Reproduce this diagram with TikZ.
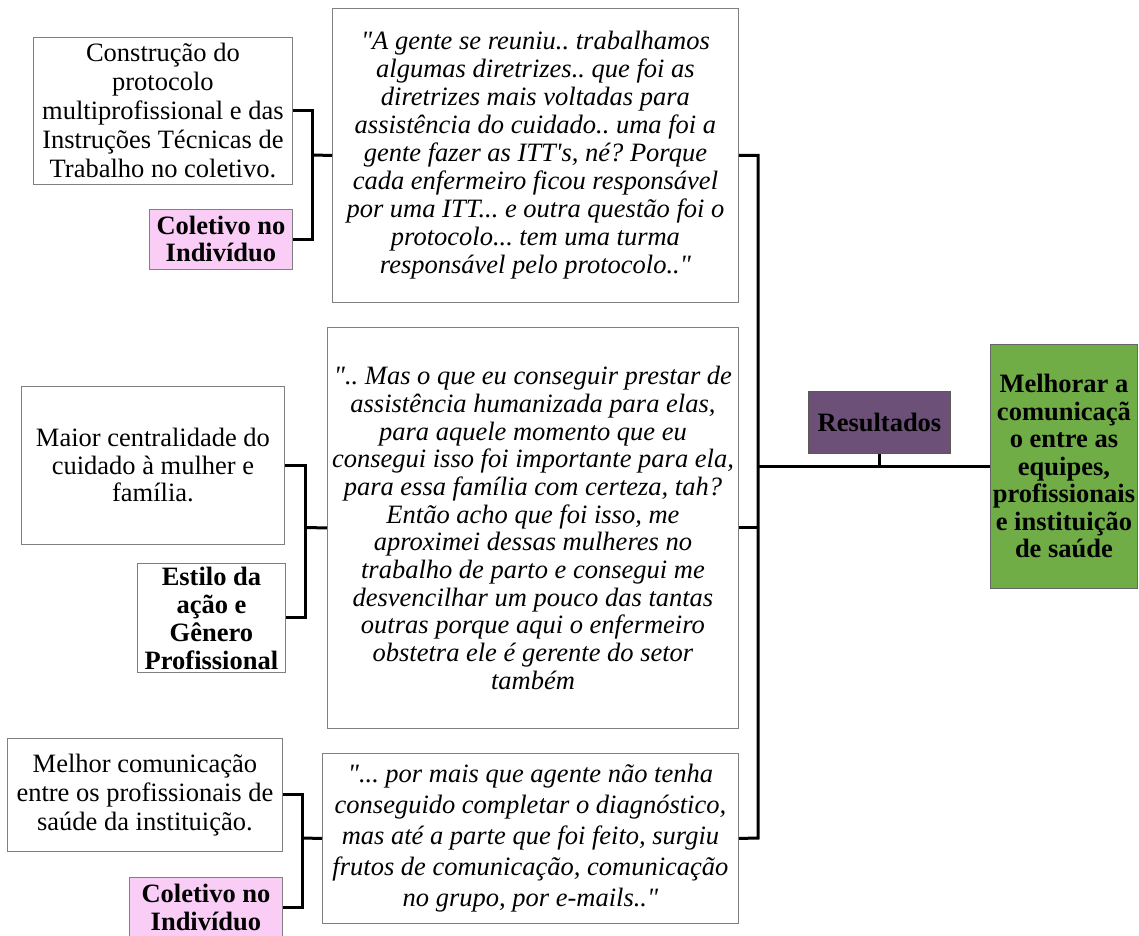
\documentclass[tikz,border=0pt]{standalone}
\usepackage{fontspec}
\setmainfont{Liberation Serif}
\definecolor{bordergray}{RGB}{128,128,128}
\definecolor{pinkfill}{RGB}{249,205,245}
\definecolor{purplefill}{RGB}{108,80,120}
\definecolor{greenfill}{RGB}{112,173,71}
\newcommand{\dq}{\textquotedbl{}}
\frenchspacing
\begin{document}
\begin{tikzpicture}[x=1pt,y=-1pt,
  panel/.style={draw=bordergray, line width=0.9pt, fill=white, inner sep=0pt,
                align=center, anchor=north west},
  plaintext/.style={font=\fontsize{26.5}{#1}\selectfont},
  quotetext/.style={font=\fontsize{26.5}{#1}\selectfont\itshape},
  tagtext/.style={font=\fontsize{26.5}{#1}\selectfont\bfseries},
  conn/.style={line width=3pt, black}]

\fill[white] (0,0) rectangle (1139,935);
\useasboundingbox (0,0) rectangle (1139,935);

% ---- top group ----
\node[panel, plaintext=29, minimum width=259pt, minimum height=147pt] (c1) at (33,37)
  {Construção do\\protocolo\\multiprofissional e das\\Instruções Técnicas de\\Trabalho no coletivo.};
\node[panel, tagtext=27, fill=pinkfill,
      minimum width=143pt, minimum height=60pt] (co1) at (149,209)
  {Coletivo no\\Indivíduo};
\node[panel, quotetext=28, minimum width=406pt, minimum height=294pt] (q1) at (332,8)
  {\dq A gente se reuniu.. trabalhamos\\algumas diretrizes.. que foi as\\diretrizes mais voltadas para\\assistência do cuidado.. uma foi a\\gente fazer as ITT\textquotesingle s, né? Porque\\cada enfermeiro ficou responsável\\por uma ITT... e outra questão foi o\\protocolo... tem uma turma\\responsável pelo protocolo..\dq};

% ---- middle group ----
\node[panel, plaintext=27.5, minimum width=263pt, minimum height=158pt] (m2) at (21,386)
  {Maior centralidade do\\cuidado à mulher e\\família.};
\node[panel, tagtext=28, minimum width=148pt, minimum height=109pt] (e2) at (137,563)
  {Estilo da\\ação e\\Gênero\\Profissional};
\node[panel, quotetext=27.7, minimum width=411pt, minimum height=401pt] (q2) at (327,327)
  {\dq.. Mas o que eu conseguir prestar de\\assistência humanizada para elas,\\para aquele momento que eu\\consegui isso foi importante para ela,\\para essa família com certeza, tah?\\Então acho que foi isso, me\\aproximei dessas mulheres no\\trabalho de parto e consegui me\\desvencilhar um pouco das tantas\\outras porque aqui o enfermeiro\\obstetra ele é gerente do setor\\também};

% ---- bottom group ----
\node[panel, plaintext=29, minimum width=275pt, minimum height=113pt] (m3) at (7,738)
  {Melhor comunicação\\entre os profissionais de\\saúde da instituição.};
\node[panel, tagtext=28, fill=pinkfill,
      minimum width=153pt, minimum height=60pt] (co3) at (129,877)
  {Coletivo no\\Indivíduo};
\node[panel, quotetext=31, minimum width=416pt, minimum height=170pt] (q3) at (322,753)
  {\dq... por mais que agente não tenha\\conseguido completar o diagnóstico,\\mas até a parte que foi feito, surgiu\\frutos de comunicação, comunicação\\no grupo, por e-mails..\dq};

% ---- results ----
\node[panel, tagtext=27, draw=black!65, fill=purplefill,
      minimum width=142pt, minimum height=62pt] (r) at (808,391)
  {Resultados};
\node[panel, tagtext=27.5, draw=black!60, fill=greenfill,
      minimum width=147pt, minimum height=244pt] (g) at (990,344)
  {Melhorar a\\comunicaçã\\o entre as\\equipes,\\profissionais\\e instituição\\de saúde};

% ---- connectors ----
\coordinate (j1) at (312,155);
\coordinate (j2) at (305,527.5);
\coordinate (j3) at (302,838);
\coordinate (tb) at (758,838);

\draw[conn] (c1.east) -| (j1) |- (co1.east);
\draw[conn] (j1) -- (q1.west);
\draw[conn] (m2.east) -| (j2) |- (e2.east);
\draw[conn] (j2) -- (q2.west);
\draw[conn] (m3.east) -| (j3) |- (co3.east);
\draw[conn] (j3) -- (q3.west);

\draw[conn] (q1.east) -| (tb) -- (q3.east);
\draw[conn] (q2.east) -- (q2.east -| tb);
\draw[conn] (g.west) -- (g.west -| tb);
\draw[conn] (r.south) -- (r.south |- g.west);
\end{tikzpicture}
\end{document}
